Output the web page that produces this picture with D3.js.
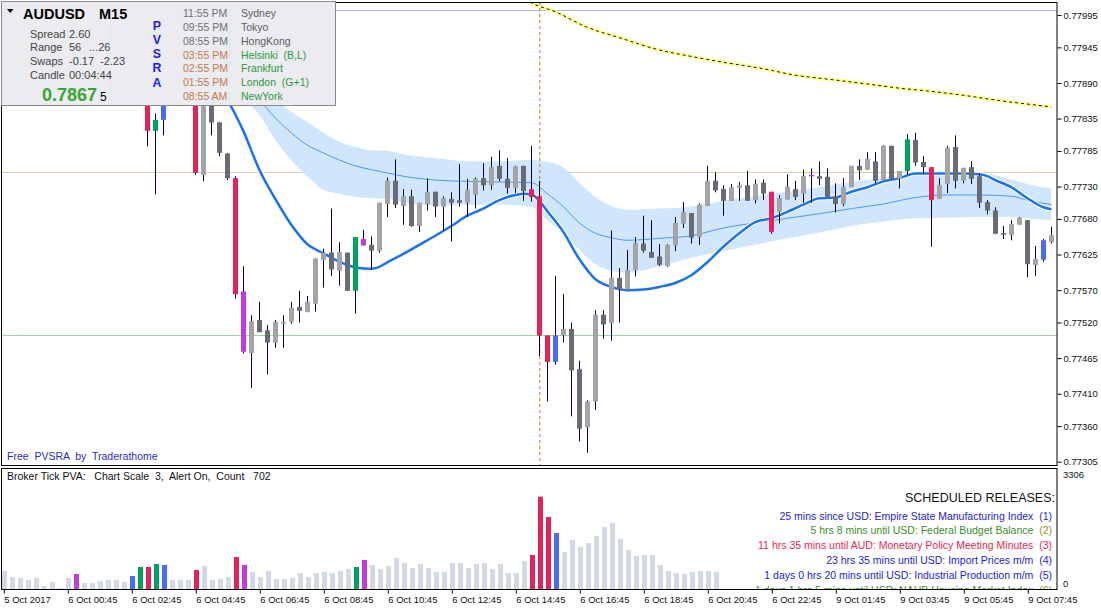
<!DOCTYPE html>
<meta charset="utf-8">
<style>
body { margin: 0; background: #fff; }
text { font-family: "Liberation Sans", Arial, sans-serif; }
</style>
<svg width="1101" height="611"></svg>
<script src="https://d3js.org/d3.v7.min.js"></script>
<script>
// prices are in points (1 point = 0.00001), one entry per M15 bar
var openPts = [77910,77904,77908,77913,77907,77915,77912,77918,77916,77925,
	77898,77902,77899,77907,77901,77905,77899,77918,77933,77816,
	77833,77879,77887,77876,77882,77748,77867,77829,77781,77743,
	77568,77473,77524,77508,77489,77518,77521,77544,77536,77549,
	77617,77628,77600,77628,77569,77649,77640,77631,77703,77739,
	77700,77715,77669,77703,77722,77699,77711,77709,77705,77717,
	77743,77732,77762,77742,77728,77762,77726,77715,77500,77459,
	77500,77510,77448,77358,77398,77532,77519,77589,77571,77601,
	77642,77629,77622,77607,77639,77673,77689,77652,77700,77739,
	77726,77708,77728,77732,77709,77736,77722,77691,77710,77726,
	77719,77748,77746,77745,77715,77703,77729,77762,77756,77769,
	77740,77793,77742,77754,77802,77768,77760,77711,77734,77791,
	77739,77760,77746,77706,77693,77658,77655,77671,77678,77609,
	77617,77644];
var highPts = [77922,77913,77916,77919,77918,77919,77921,77921,77929,77932,
	77907,77907,77910,77913,77910,77910,77922,77941,77941,77843,
	77887,77895,77898,77892,77888,77876,77873,77830,77782,77746,
	77607,77531,77552,77516,77524,77531,77552,77569,77561,77619,
	77634,77696,77644,77628,77652,77663,77653,77705,77744,77772,
	77726,77725,77705,77743,77722,77715,77721,77765,77742,77744,
	77766,77776,77786,77774,77762,77762,77793,77739,77500,77592,
	77564,77520,77461,77400,77539,77539,77662,77604,77632,77652,
	77685,77678,77641,77641,77683,77706,77689,77704,77762,77752,
	77732,77734,77737,77754,77741,77741,77722,77717,77749,77739,
	77756,77758,77769,77758,77735,77743,77762,77772,77783,77783,
	77794,77793,77754,77811,77813,77777,77760,77743,77793,77809,
	77759,77769,77750,77709,77698,77669,77678,77683,77678,77638,
	77649,77668];
var lowPts = [77898,77895,77899,77902,77901,77910,77907,77915,77910,77892,
	77892,77895,77895,77898,77895,77896,77895,77910,77792,77718,
	77809,77867,77871,77864,77748,77738,77809,77777,77740,77557,
	77472,77419,77505,77440,77481,77481,77518,77520,77536,77537,
	77574,77592,77577,77569,77534,77639,77602,77628,77683,77697,
	77671,77668,77660,77693,77683,77662,77645,77699,77683,77696,
	77724,77725,77738,77719,77720,77708,77707,77468,77398,77455,
	77489,77375,77336,77319,77385,77495,77492,77520,77571,77591,
	77628,77620,77607,77606,77630,77666,77642,77640,77700,77721,
	77685,77708,77708,77708,77704,77709,77657,77673,77710,77709,
	77705,77705,77732,77714,77690,77700,77729,77740,77756,77735,
	77740,77742,77727,77748,77762,77750,77637,77711,77720,77727,
	77735,77734,77697,77687,77657,77649,77647,77671,77590,77592,
	77614,77642];
var closePts = [77904,77908,77913,77907,77915,77912,77918,77916,77925,77898,
	77902,77899,77907,77901,77905,77899,77918,77933,77816,77833,
	77879,77887,77876,77882,77751,77867,77829,77782,77743,77564,
	77475,77522,77505,77489,77521,77521,77543,77538,77552,77619,
	77628,77602,77629,77569,77652,77639,77631,77705,77739,77702,
	77715,77669,77705,77722,77699,77712,77705,77705,77725,77742,
	77732,77760,77742,77728,77761,77723,77714,77500,77459,77500,
	77510,77446,77356,77398,77532,77517,77589,77571,77601,77643,
	77631,77620,77609,77640,77674,77691,77651,77702,77739,77724,
	77708,77729,77732,77708,77734,77719,77660,77712,77730,77714,
	77746,77747,77742,77714,77703,77729,77762,77755,77773,77739,
	77793,77742,77754,77803,77767,77760,77709,77732,77790,77739,
	77759,77742,77705,77693,77657,77657,77672,77682,77610,77618,
	77647,77655];
// PVSRA bar class: r climax bear, g climax bull, b rising bull, m rising bear
var barClass = {9:"m",16:"b",17:"g",18:"r",19:"g",20:"b",24:"r",29:"r",30:"m",
	44:"g",45:"m",66:"r",67:"r",68:"r",69:"b",96:"r",101:"m",113:"g",116:"r",130:"b"};
var tickVolume = [505,331,303,248,303,83,193,28,303,413,
	165,165,220,248,248,193,358,606,606,689,
	661,248,248,248,523,634,248,276,331,882,
	661,468,331,496,276,276,303,441,331,441,
	468,441,496,551,606,799,661,551,634,854,
	716,579,689,579,468,468,716,716,579,689,
	716,551,689,441,441,771,937,2543,1984,1543,
	1019,1350,1157,1267,1460,1708,1818,1378,1074,909,
	937,937,661,496,441,413,468,496,496,468];

var blueBars = [25,28,30,32,34,36,38,40,42,44,46,47,48,50,52,54,56,58,60,62,64,65,66,67,68,70,72,74,76,78,80,82,84,86,88,90,92,94,96,98,100,102,104,106,108,110,112,114,116,118,120,122,123,124,126,128,130,131];
var bluePts = [77910,77864,77816,77756,77711,77671,77641,77627,77614,77605,77603,77606,77613,77626,77640,77654,77669,77685,77696,77709,77717,77719,77718,77708,77692,77660,77618,77587,77575,77570,77571,77575,77581,77593,77613,77637,77658,77675,77681,77691,77702,77712,77713,77722,77729,77738,77743,77750,77750,77750,77750,77749,77746,77740,77729,77712,77698,77695];
var bandBars = [30,32,34,36,38,40,42,44,46,48,50,54,58,62,66,68,70,72,74,76,78,82,86,90,94,98,102,106,110,114,118,122,126,128,131];
var bandUpper = [77910,77887,77864,77845,77830,77813,77799,77791,77786,77785,77780,77774,77769,77769,77771,77768,77760,77736,77714,77700,77694,77696,77699,77708,77715,77722,77729,77737,77743,77749,77751,77751,77741,77734,77727];
var bandMid = [77887,77864,77836,77813,77794,77782,77771,77762,77756,77751,77746,77740,77738,77737,77736,77719,77699,77674,77658,77651,77647,77650,77654,77666,77674,77681,77688,77696,77703,77713,77717,77717,77715,77709,77702];
var bandLower = [77864,77841,77802,77771,77746,77725,77719,77714,77712,77711,77706,77700,77702,77702,77699,77678,77658,77632,77610,77600,77597,77607,77620,77630,77640,77650,77659,77669,77676,77681,77682,77683,77683,77681,77678];
var yellowBars = [64,66,69,73,77,82,86,90,95,99,103,107,112,116,120,125,129,131];
var yellowPts = [78031,78014,78000,77976,77960,77941,77931,77922,77912,77902,77896,77890,77882,77877,77871,77862,77856,77853];

var levelPts = [78002, 77752, 77501];
var levelColors = ["#b4b4f8", "#dccfa8", "#9ad89a"];
var markerBar = 67;

var priceTicks = [77995,77945,77890,77835,77785,77730,77680,77625,77570,77520,77465,77410,77360,77305];
var timeBars = [0,8,16,24,32,40,48,56,64,72,80,88,96,104,112,120,128];
var timeLabels = ["5 Oct 2017","6 Oct 00:45","6 Oct 02:45","6 Oct 04:45","6 Oct 06:45","6 Oct 08:45",
	"6 Oct 10:45","6 Oct 12:45","6 Oct 14:45","6 Oct 16:45","6 Oct 18:45","6 Oct 20:45","6 Oct 22:45",
	"9 Oct 01:45","9 Oct 03:45","9 Oct 05:45","9 Oct 07:45"];

var sessionTimes = ["11:55 PM","09:55 PM","08:55 PM","03:55 PM","02:55 PM","01:55 PM","08:55 AM"];
var sessionCities = ["Sydney","Tokyo","HongKong","Helsinki  (B,L)","Frankfurt","London  (G+1)","NewYork"];
var releases = [
	["25 mins since USD: Empire State Manufacturing Index", "(1)", "#2323e0", "#2323e0"],
	["5 hrs 8 mins until USD: Federal Budget Balance", "(2)", "#3b8f2a", "#8f9a1c"],
	["11 hrs 35 mins until AUD: Monetary Policy Meeting Minutes", "(3)", "#e8284f", "#e8284f"],
	["23 hrs 35 mins until USD: Import Prices m/m", "(4)", "#2323e0", "#2323e0"],
	["1 days 0 hrs 20 mins until USD: Industrial Production m/m", "(5)", "#2323e0", "#2323e0"],
	["1 days 1 hrs 5 mins until USD: NAHB Housing Market Index", "(6)", "#3b8f2a", "#8f9a1c"]
];

var svg = d3.select("svg");
var plotRight = 1057;

var x = d3.scaleLinear().domain([0, 131]).range([3.3, 1051.3]);
var y = d3.scaleLinear().domain([77305, 77995]).range([461.7, 15]);
var yv = d3.scaleLinear().domain([0, 3306]).range([589, 469]);

var classColor = {r: "#e3245a", g: "#00a15e", b: "#4a6cf2", m: "#c23ae2"};
function candleColor(i) {
	var c = barClass[i];
	if (c) return classColor[c];
	return closePts[i] >= openPts[i] ? "#a4a4a6" : "#6a6a73";
}

svg.append("rect").attr("width", 1101).attr("height", 611).attr("fill", "#fff");

var defs = svg.append("defs");
defs.append("clipPath").attr("id", "mainClip").append("rect")
	.attr("x", 1).attr("y", 2).attr("width", plotRight - 1).attr("height", 463.5);
defs.append("clipPath").attr("id", "volClip").append("rect")
	.attr("x", 1).attr("y", 468).attr("width", plotRight - 1).attr("height", 121.5);

var main = svg.append("g").attr("clip-path", "url(#mainClip)");

// horizontal levels
main.selectAll(".level").data(levelPts).enter().append("line")
	.attr("x1", 1).attr("x2", plotRight)
	.attr("y1", function(d) { return Math.round(y(d)) + 0.5; })
	.attr("y2", function(d) { return Math.round(y(d)) + 0.5; })
	.style("stroke", function(d, i) { return levelColors[i]; })
	.style("stroke-width", 1);

// channel band
var band = d3.area()
	.x(function(d) { return x(bandBars[d]); })
	.y0(function(d) { return y(bandLower[d]); })
	.y1(function(d) { return y(bandUpper[d]); })
	.curve(d3.curveMonotoneX);
main.append("path").datum(d3.range(bandBars.length))
	.attr("d", band)
	.style("fill", "#d0e6fc");
main.append("path").datum(d3.range(bandBars.length))
	.attr("d", d3.line()
		.x(function(d) { return x(bandBars[d]); })
		.y(function(d) { return y(bandMid[d]); })
		.curve(d3.curveMonotoneX))
	.style("fill", "none").style("stroke", "#4b97f0").style("stroke-width", 1);

// yellow dotted average
var yellowLine = d3.line()
	.x(function(d) { return x(yellowBars[d]); })
	.y(function(d) { return y(yellowPts[d]); })
	.curve(d3.curveMonotoneX);
main.append("path").datum(d3.range(yellowBars.length))
	.attr("d", yellowLine)
	.style("fill", "none").style("stroke", "#ffff9c").style("stroke-width", 4);
main.append("path").datum(d3.range(yellowBars.length))
	.attr("d", yellowLine)
	.style("fill", "none").style("stroke", "#111").style("stroke-width", 1)
	.style("stroke-dasharray", "3,3");

// blue average
var blueLine = d3.line()
	.x(function(d) { return x(blueBars[d]); })
	.y(function(d) { return y(bluePts[d]); })
	.curve(d3.curveMonotoneX);
main.append("path").datum(d3.range(blueBars.length))
	.attr("d", blueLine)
	.style("fill", "none").style("stroke", "#fff").style("stroke-width", 4.5);
main.append("path").datum(d3.range(blueBars.length))
	.attr("d", blueLine)
	.style("fill", "none").style("stroke", "#1a72f0").style("stroke-width", 2.5);

// vertical marker
main.append("line")
	.attr("x1", x(markerBar) + 0.5).attr("x2", x(markerBar) + 0.5)
	.attr("y1", 2).attr("y2", 466)
	.style("stroke", "#e8602c").style("stroke-width", 1)
	.style("stroke-dasharray", "3,3");

// candles
var idx = d3.range(openPts.length);
var candles = main.selectAll(".candle").data(idx).enter().append("g");
candles.append("line")
	.attr("x1", function(i) { return Math.round(x(i)) + 0.5; })
	.attr("x2", function(i) { return Math.round(x(i)) + 0.5; })
	.attr("y1", function(i) { return y(highPts[i]); })
	.attr("y2", function(i) { return y(lowPts[i]); })
	.style("stroke", "#000040").style("stroke-width", 1);
candles.append("rect")
	.attr("x", function(i) { return Math.round(x(i)) - 2; })
	.attr("width", 5)
	.attr("y", function(i) { return y(Math.max(openPts[i], closePts[i])); })
	.attr("height", function(i) {
		return Math.max(1.5, Math.abs(y(openPts[i]) - y(closePts[i])));
	})
	.style("fill", candleColor);

// volume panel
var vol = svg.append("g").attr("clip-path", "url(#volClip)");
vol.selectAll(".vbar").data(tickVolume).enter().append("rect")
	.attr("x", function(d, i) { return Math.round(x(i)) - 1; })
	.attr("width", 5)
	.attr("y", function(d) { return yv(d); })
	.attr("height", function(d) { return yv(0) - yv(d); })
	.style("fill", function(d, i) {
		var c = barClass[i];
		return c ? classColor[c] : "#d0d9e5";
	});

vol.append("text").attr("x", 1055).attr("y", 502)
	.style("text-anchor", "end").style("font-size", "12.5px").style("fill", "#111")
	.text("SCHEDULED RELEASES:");
var rel = vol.selectAll(".rel").data(releases).enter().append("text")
	.attr("x", 1052)
	.attr("y", function(d, i) { return 519.5 + i * 14.8; })
	.style("text-anchor", "end").style("font-size", "10.5px")
	.style("white-space", "pre");
rel.append("tspan").style("fill", function(d) { return d[2]; }).text(function(d) { return d[0] + "  "; });
rel.append("tspan").style("fill", function(d) { return d[3]; }).text(function(d) { return d[1]; });

vol.append("text").attr("x", 7).attr("y", 479.5)
	.style("font-size", "10.5px").style("fill", "#111").style("white-space", "pre")
	.text("Broker Tick PVA:   Chart Scale  3,  Alert On,  Count   702");

main.append("text").attr("x", 7).attr("y", 459.5)
	.style("font-size", "10.5px").style("fill", "#2b2bd6").style("white-space", "pre")
	.text("Free  PVSRA  by  Traderathome");

// frames
svg.append("rect").attr("x", 1.5).attr("y", 2.5).attr("width", plotRight - 1.5).attr("height", 463)
	.style("fill", "none").style("stroke", "#000").style("stroke-width", 1);
svg.append("rect").attr("x", 1.5).attr("y", 468.5).attr("width", plotRight - 1.5).attr("height", 121)
	.style("fill", "none").style("stroke", "#000").style("stroke-width", 1);

// price axis
var yAxis = svg.append("g").attr("transform", "translate(" + (plotRight + 0.5) + ",0)")
	.call(d3.axisRight(y).tickValues(priceTicks).tickSize(4).tickPadding(2)
		.tickFormat(function(d) { return (d / 100000).toFixed(5); }));
yAxis.select(".domain").remove();
yAxis.selectAll("text").style("font-family", "Liberation Sans, Arial, sans-serif").style("font-size", "9.5px").style("fill", "#111");
yAxis.selectAll("line").style("stroke", "#000");

svg.append("text").attr("x", 1063).attr("y", 478).style("font-size", "9.5px").style("fill", "#111").text("3306");
svg.append("text").attr("x", 1063).attr("y", 587).style("font-size", "9.5px").style("fill", "#111").text("0");

// time axis
var xAxis = svg.append("g").attr("transform", "translate(0.5,589.5)")
	.call(d3.axisBottom(x).tickValues(timeBars).tickSize(4)
		.tickFormat(function(d, i) { return timeLabels[i]; }));
xAxis.select(".domain").remove();
xAxis.selectAll("line").style("stroke", "#000");
xAxis.selectAll("text").attr("y", 7).style("text-anchor", "start")
	.style("font-family", "Liberation Sans, Arial, sans-serif").style("font-size", "9.5px").style("fill", "#111");

// info panel
var info = svg.append("g");
info.append("rect").attr("x", 1.5).attr("y", 1.5).attr("width", 334).attr("height", 104)
	.style("fill", "#ebebf0").style("stroke", "#8a8a8a").style("stroke-width", 1);
info.append("line").attr("x1", 110.5).attr("x2", 110.5).attr("y1", 2).attr("y2", 105)
	.style("stroke", "#d4eeee");
info.append("line").attr("x1", 229.5).attr("x2", 229.5).attr("y1", 2).attr("y2", 105)
	.style("stroke", "#d4eeee");
info.append("path").attr("d", "M7,9L13.5,9L10.25,13Z").style("fill", "#000");
info.append("text").attr("x", 23).attr("y", 18.5).style("font-size", "14.5px").style("font-weight", "bold")
	.style("fill", "#000").text("AUDUSD");
info.append("text").attr("x", 99).attr("y", 18.5).style("font-size", "14.5px").style("font-weight", "bold")
	.style("fill", "#000").text("M15");

var statRows = [["Spread", "2.60", ""], ["Range", "56", "...26"], ["Swaps", "-0.17", "-2.23"], ["Candle", "00:04:44", ""]];
var statY = [37.5, 51.3, 65.3, 79.3];
statRows.forEach(function(r, i) {
	var t = info.append("text").attr("y", statY[i]).style("font-size", "11px").style("fill", "#444");
	t.append("tspan").attr("x", 30).text(r[0]);
	t.append("tspan").attr("x", 69).text(r[1]);
	if (r[2]) t.append("tspan").attr("x", i === 1 ? 89 : 100).text(r[2]);
});
info.append("text").attr("x", 42).attr("y", 100.5).style("font-size", "18px").style("font-weight", "bold")
	.style("fill", "#35a832").text("0.7867");
info.append("text").attr("x", 100).attr("y", 100.5).style("font-size", "12px").style("fill", "#000").text("5");

var pvsra = ["P", "V", "S", "R", "A"];
var pvsraY = [29.6, 43.6, 57.6, 72.4, 87.2];
info.selectAll(".pv").data(pvsra).enter().append("text")
	.attr("x", 157).attr("y", function(d, i) { return pvsraY[i]; })
	.style("text-anchor", "middle").style("font-size", "12.4px").style("font-weight", "bold")
	.style("fill", "#1c1cf2").text(function(d) { return d; });

info.selectAll(".stime").data(sessionTimes).enter().append("text")
	.attr("x", 183).attr("y", function(d, i) { return 16.8 + i * 13.9; })
	.style("font-size", "10.5px")
	.style("fill", function(d, i) { return i < 3 ? "#707070" : "#c47a4e"; })
	.text(function(d) { return d; });
info.selectAll(".scity").data(sessionCities).enter().append("text")
	.attr("x", 241).attr("y", function(d, i) { return 16.8 + i * 13.9; })
	.style("font-size", "10.5px").style("white-space", "pre")
	.style("fill", function(d, i) { return i < 3 ? "#5e5e5e" : "#2a9a42"; })
	.text(function(d) { return d; });
</script>
